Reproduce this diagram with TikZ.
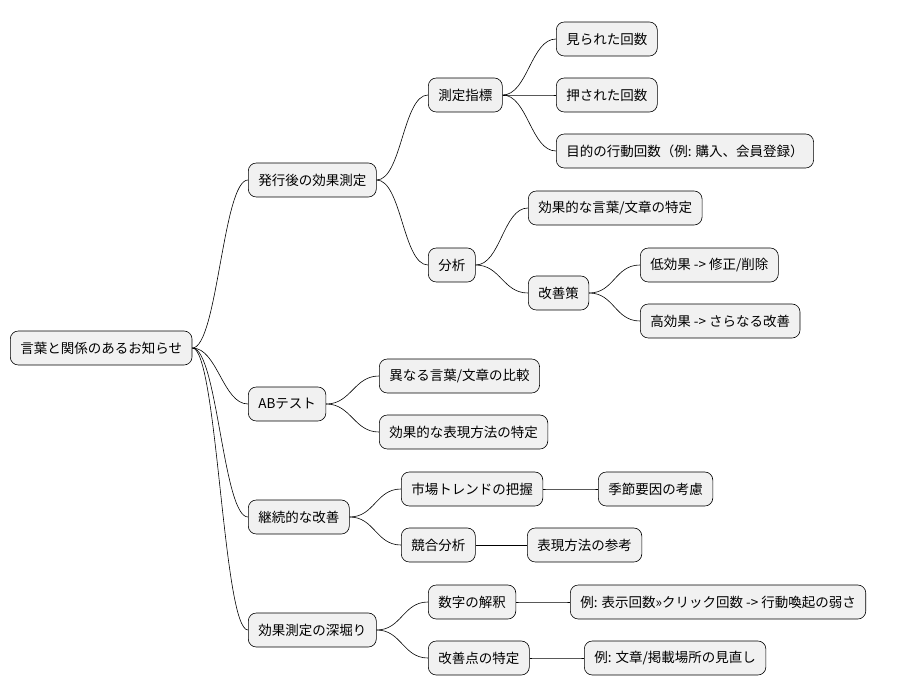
\documentclass[tikz,border=0pt]{standalone}
\usepackage{fontspec}
\setmainfont{Noto Sans CJK JP}
\begin{document}
\begin{tikzpicture}[x=1pt,y=-1pt,
  box/.style={draw=black,fill={rgb,255:red,241;green,241;blue,241},rounded corners=8pt,minimum height=34pt,inner xsep=10pt,anchor=west,font=\fontsize{13.5}{16}\selectfont,line width=0.6pt},
  link/.style={draw=black,line width=0.6pt}]
\useasboundingbox (0,0) rectangle (911,696);
\node[box] (r) at (10,348) {言葉と関係のあるお知らせ};
\node[box] (a) at (248,180) {発行後の効果測定};
\node[box] (a1) at (428,95) {測定指標};
\node[box] (a11) at (556,39) {見られた回数};
\node[box] (a12) at (556,95) {押された回数};
\node[box] (a13) at (556,151) {目的の行動回数（例: 購入、会員登録）};
\node[box] (a2) at (428,265) {分析};
\node[box] (a21) at (528,208) {効果的な言葉/文章の特定};
\node[box] (a22) at (528,293) {改善策};
\node[box] (a221) at (640,265) {低効果 -> 修正/削除};
\node[box] (a222) at (640,321) {高効果 -> さらなる改善};
\node[box] (b) at (248,404) {ABテスト};
\node[box] (b1) at (379,376) {異なる言葉/文章の比較};
\node[box] (b2) at (379,432) {効果的な表現方法の特定};
\node[box] (c) at (248,517) {継続的な改善};
\node[box] (c1) at (401,489) {市場トレンドの把握};
\node[box] (c11) at (598,489) {季節要因の考慮};
\node[box] (c2) at (401,545) {競合分析};
\node[box] (c21) at (527,545) {表現方法の参考};
\node[box] (d) at (248,630) {効果測定の深堀り};
\node[box] (d1) at (428,602) {数字の解釈};
\node[box] (d11) at (570,602) {例: 表示回数>>クリック回数 -> 行動喚起の弱さ};
\node[box] (d2) at (428,658) {改善点の特定};
\node[box] (d21) at (584,658) {例: 文章/掲載場所の見直し};
\foreach \p/\c in {r/a,r/b,r/c,r/d,a/a1,a/a2,a1/a11,a1/a12,a1/a13,a2/a21,a2/a22,a22/a221,a22/a222,b/b1,b/b2,c/c1,c/c2,c1/c11,c2/c21,d/d1,d/d2,d1/d11,d2/d21}
  \draw[link] (\p.east) .. controls +(25,0) and +(-25,0) .. (\c.west);
\end{tikzpicture}
\end{document}
